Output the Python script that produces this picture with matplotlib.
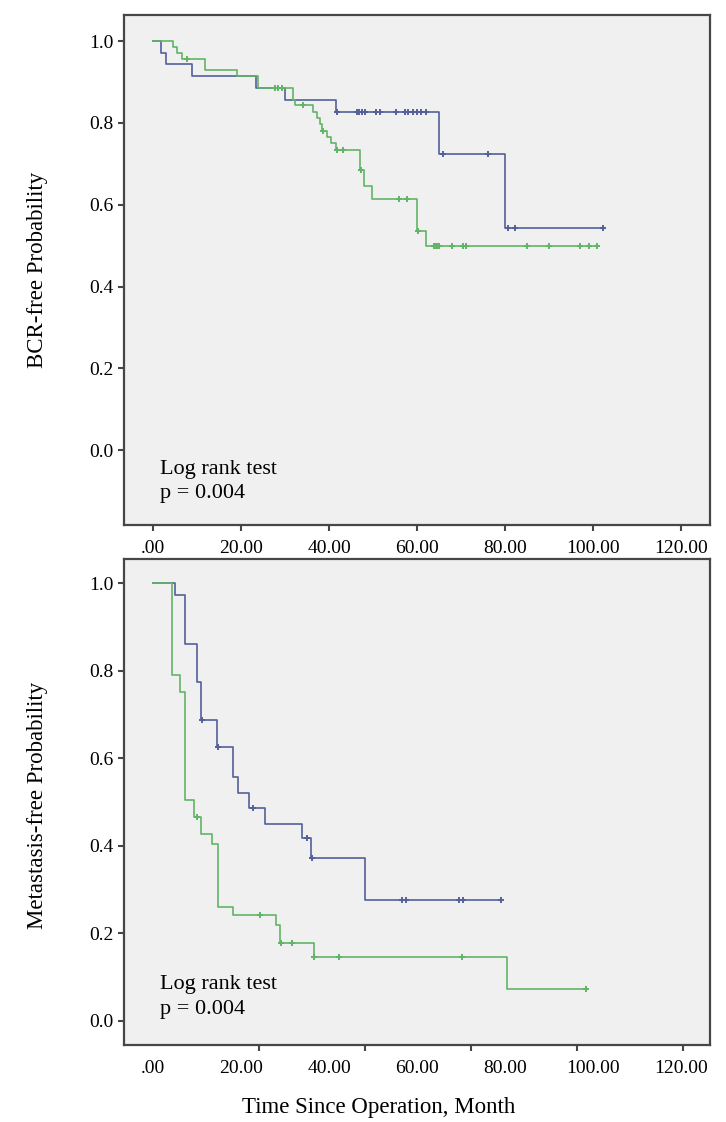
import numpy as np
import matplotlib
matplotlib.use("Agg")
import matplotlib.pyplot as plt

plt.rcParams['font.family'] = ['Liberation Serif', 'DejaVu Serif']

# ---------------- data ----------------
# Top panel: BCR-free probability
top_blue_t = [0, 1.9, 2.9, 8.9, 23.5, 29.9, 41.6, 65.1, 80.0]
top_blue_s = [1.0, 0.971, 0.943, 0.914, 0.886, 0.857, 0.828, 0.724, 0.543]
top_blue_cens = [41.9, 46.3, 46.9, 47.5, 48.2, 50.7, 51.6, 55.2, 57.2, 58.0, 59.0,
                 60.0, 61.0, 62.0, 66.0, 76.2, 80.7, 82.3, 102.3]
top_blue_end = 102.3

top_green_t = [0, 4.6, 5.4, 6.5, 11.8, 19.0, 23.9, 31.9, 32.3, 36.4, 37.2, 37.9,
               38.5, 39.5, 40.5, 41.5, 47.0, 47.9, 49.7, 59.9, 62.0]
top_green_s = [1.0, 0.986, 0.971, 0.957, 0.929, 0.914, 0.886, 0.857, 0.843, 0.828,
               0.812, 0.797, 0.781, 0.766, 0.750, 0.735, 0.685, 0.645, 0.615, 0.535, 0.500]
top_green_cens = [7.7, 27.7, 28.5, 29.3, 34.2, 38.7, 41.9, 43.2, 47.3, 56.0, 57.8,
                  60.2, 63.8, 64.2, 64.6, 65.0, 68.0, 70.5, 71.2, 85.0, 90.0, 97.0,
                  99.0, 101.0]
top_green_end = 101.0

# Bottom panel: metastasis-free probability
bot_blue_t = [0, 5.0, 7.3, 9.9, 11.0, 14.5, 18.2, 19.4, 21.7, 25.5, 33.8, 36.0, 48.2]
bot_blue_s = [1.0, 0.972, 0.861, 0.775, 0.687, 0.625, 0.556, 0.521, 0.487, 0.450,
              0.417, 0.371, 0.276]
bot_blue_cens = [11.1, 14.7, 22.8, 34.9, 36.2, 56.5, 57.5, 69.6, 70.5, 79.2]
bot_blue_end = 79.2

bot_green_t = [0, 4.2, 6.1, 7.3, 9.2, 11.0, 13.3, 14.8, 18.2, 27.9, 28.9, 36.5, 80.5]
bot_green_s = [1.0, 0.790, 0.752, 0.505, 0.466, 0.427, 0.404, 0.261, 0.242, 0.219,
               0.177, 0.147, 0.074]
bot_green_cens = [9.9, 24.3, 29.2, 31.5, 36.6, 42.3, 70.2, 98.4]
bot_green_end = 98.4

xtick_vals = [0, 20, 40, 60, 80, 100, 120]
xtick_labels = ['.00', '20.00', '40.00', '60.00', '80.00', '100.00', '120.00']
ytick_vals = [0.0, 0.2, 0.4, 0.6, 0.8, 1.0]
ytick_labels = ['0.0', '0.2', '0.4', '0.6', '0.8', '1.0']

top_ylabel = 'BCR-free Probability'
bot_ylabel = 'Metastasis-free Probability'
xlabel = 'Time Since Operation, Month'
annot = 'Log rank test\np = 0.004'

BLUE = '#55609a'
GREEN = '#62b466'
FRAME = '#464646'

# ---------------- figure ----------------
fig = plt.figure(figsize=(7.26, 11.22), dpi=100)
ax_top = fig.add_axes([124/726, 1 - 525/1122, 586/726, 510/1122])
ax_bot = fig.add_axes([124/726, 1 - 1045/1122, 586/726, 486/1122])


def km_draw(ax, t, s, cens, t_end, color):
    xs = list(t) + [t_end]
    ys = list(s) + [s[-1]]
    ax.step(xs, ys, where='post', color=color, lw=1.2, zorder=3)
    t_arr = np.asarray(t)
    cy = [s[np.searchsorted(t_arr, c, side='right') - 1] for c in cens]
    ax.plot(cens, cy, ls='none', marker='+', ms=5, mew=1.4, color=color, zorder=4)


def style(ax, ylim):
    ax.set_facecolor('#f0f0f0')
    ax.set_xlim(-6.6, 126.6)
    ax.set_ylim(*ylim)
    ax.set_xticks(xtick_vals)
    ax.set_xticklabels(xtick_labels)
    ax.set_yticks(ytick_vals)
    ax.set_yticklabels(ytick_labels)
    for sp in ax.spines.values():
        sp.set_color(FRAME)
        sp.set_linewidth(1.6)
    ax.tick_params(axis='both', direction='out', length=4.5, width=1.5,
                   color=FRAME, labelsize=14, labelcolor='black', pad=3)
    ax.tick_params(axis='x', pad=6)


km_draw(ax_top, top_blue_t, top_blue_s, top_blue_cens, top_blue_end, BLUE)
km_draw(ax_top, top_green_t, top_green_s, top_green_cens, top_green_end, GREEN)
style(ax_top, (-0.183, 1.064))
ax_top.text(1.6, -0.077, annot, fontsize=16, va='center', ha='left', linespacing=1.4)

km_draw(ax_bot, bot_blue_t, bot_blue_s, bot_blue_cens, bot_blue_end, BLUE)
km_draw(ax_bot, bot_green_t, bot_green_s, bot_green_cens, bot_green_end, GREEN)
style(ax_bot, (-0.055, 1.055))
# the lower panel's tick marks sit on a wider spacing than its labels
ax_bot.tick_params(axis='x', which='major', length=0, pad=10.5)
ax_bot.set_xticks(np.linspace(0, 120.5, 6), minor=True)
ax_bot.tick_params(axis='x', which='minor', direction='out', length=4.5, width=1.5,
                   color=FRAME)
ax_bot.text(1.6, 0.054, annot, fontsize=16, va='center', ha='left', linespacing=1.4)

fig.text(38/726, 1 - 270/1122, top_ylabel, rotation=90, ha='center', va='center', fontsize=16.5)
fig.text(38/726, 1 - 805/1122, bot_ylabel, rotation=90, ha='center', va='center', fontsize=16.5)
fig.text(379/726, 1 - 1108/1122, xlabel, ha='center', va='center', fontsize=16.5)

fig.savefig('out.png', dpi=100, facecolor='white')
